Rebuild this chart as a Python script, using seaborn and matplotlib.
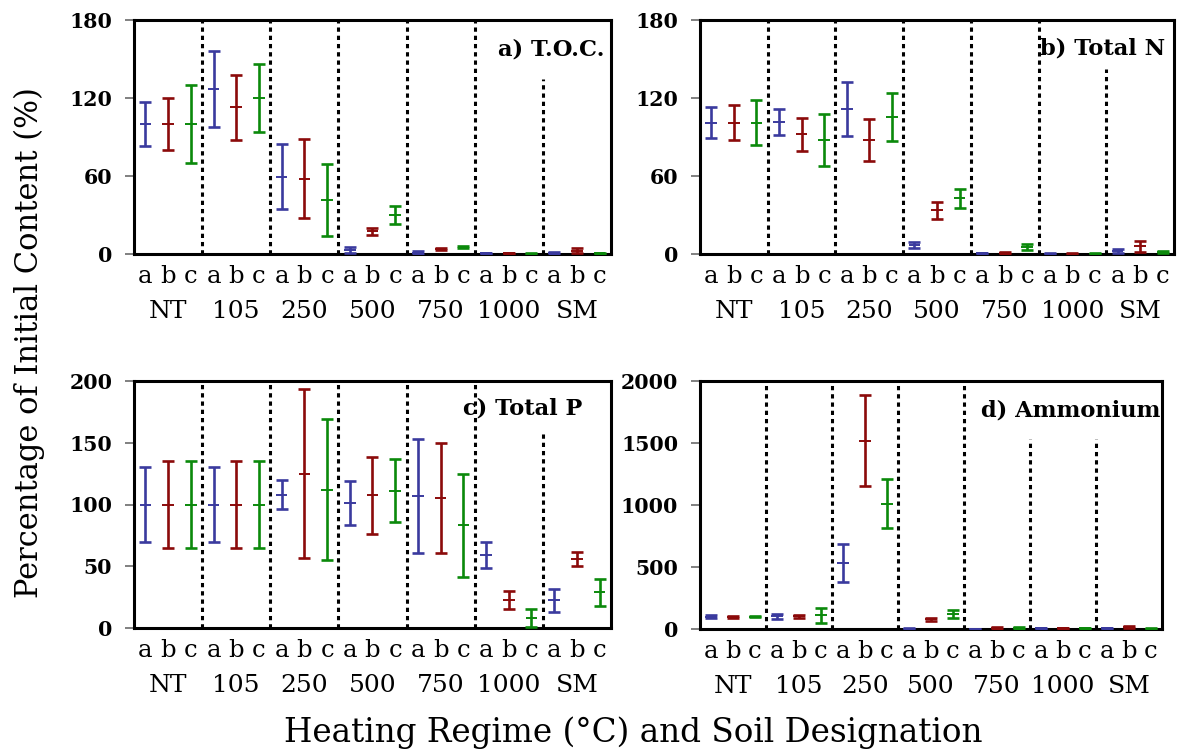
import numpy as np
import matplotlib
matplotlib.use("Agg")
import matplotlib.pyplot as plt
import seaborn as sns
import pandas as pd

# ---------------- data ----------------
groups = ["NT", "105", "250", "500", "750", "1000", "SM"]
soils = ["a", "b", "c"]

toc_mean = [100, 100, 100, 127, 113, 120, 59.5, 58, 41.5, 3, 17.5, 30,
            1, 3.8, 5.5, 0.4, 0.4, 0.3, 1, 2.5, 0.4]
toc_err = [16.8, 20, 30, 29, 25, 26.5, 25, 30.5, 28, 2.5, 2.5, 7,
           1, 1, 1, 0.3, 0.4, 0.3, 0.8, 2, 0.4]

tn_mean = [101, 101, 101, 101.5, 92, 87.5, 111.5, 87.5, 105.5, 6.7, 33.5, 42.7,
           0.4, 0.8, 5.3, 0.2, 0.3, 0.2, 2, 6, 1.5]
tn_err = [12, 13.5, 17.5, 9.7, 12.5, 20, 21, 16.3, 18.2, 2.2, 6.7, 7.5,
          0.4, 0.6, 2.2, 0.2, 0.3, 0.3, 1.5, 4.3, 1]

tp_mean = [100, 100, 100, 100, 100, 100, 108, 125, 112, 101.5, 107.5, 111,
           107, 105.5, 83, 59, 22.5, 8, 22.5, 56, 29]
tp_err = [30, 35.5, 35.5, 30, 35.5, 35.5, 11.5, 68.7, 57, 17.8, 31.3, 25.5,
          46, 44.7, 42, 10.7, 7.3, 7.2, 9.3, 5.6, 11]

nh4_mean = [100, 98, 100, 102, 103, 110, 535, 1520, 1012, 4, 80, 120,
            2, 10, 12, 5, 5, 5, 7, 15, 3]
nh4_err = [15, 10, 6, 20, 12, 60, 152, 365, 195, 3, 12, 30,
           2, 10, 8, 3, 3, 3, 4, 7, 2]

panel_titles = ["a) T.O.C.", "b) Total N", "c) Total P", "d) Ammonium"]
yticks_ab = [0, 60, 120, 180]
yticks_c = [0, 50, 100, 150, 200]
yticks_d = [0, 500, 1000, 1500, 2000]

# ---------------- style ----------------
sns.set_style("white")
plt.rcParams["font.family"] = ["DejaVu Serif"]
plt.rcParams.update({"text.color": "black", "xtick.color": "black",
                     "ytick.color": "black", "axes.labelcolor": "black"})

palette = {"a": "#3a3a9e", "b": "#8b0a0a", "c": "#0b890b"}

fig = plt.figure(figsize=(11.83, 7.53), dpi=100)

W, H = 1183, 753
def rect(l, r, t, b):
    return [l / W, (H - b) / H, (r - l) / W, (b - t) / H]

axes_rects = [rect(134, 611, 20, 254), rect(700, 1174, 20, 254),
              rect(134, 611, 381, 628), rect(700, 1162, 381, 629)]
datasets = [(toc_mean, toc_err, yticks_ab), (tn_mean, tn_err, yticks_ab),
            (tp_mean, tp_err, yticks_c), (nh4_mean, nh4_err, yticks_d)]
# start height (axes fraction) of each dotted separator, per panel
sep_tops = [[1, 1, 1, 1, 1, 0.75], [1, 1, 1, 1, 1, 0.79],
            [1, 1, 1, 1, 1, 0.80], [1, 1, 1, 1, 0.765, 0.765]]
title_pos = [(0.987, 0.872), (0.981, 0.88), (0.939, 0.887), (0.996, 0.883)]

for i, (r, (mean, err, yt)) in enumerate(zip(axes_rects, datasets)):
    ax = fig.add_axes(r)
    df = pd.DataFrame({
        "pos": np.arange(len(groups) * len(soils)),
        "group": np.repeat(groups, len(soils)),
        "soil": soils * len(groups),
        "mean": mean,
        "err": err,
    })
    for s in soils:
        sub = df[df.soil == s]
        ax.errorbar(sub["pos"], sub["mean"], yerr=sub["err"], fmt="none",
                    ecolor=palette[s], elinewidth=1.9, capsize=4.2,
                    capthick=1.9, zorder=3)
    sns.scatterplot(data=df, x="pos", y="mean", hue="soil", palette=palette,
                    marker="_", s=70, linewidth=1.4, legend=False, ax=ax,
                    zorder=4)
    ax.set_xlim(-0.5, len(df) - 0.5)
    ax.set_ylim(yt[0], yt[-1])
    ax.set_yticks(yt)
    ax.set_yticklabels([str(v) for v in yt], fontweight="bold", fontsize=14.8)
    ax.tick_params(axis="y", direction="out", length=6.2, width=1.4,
                   color="#808080", labelcolor="black", pad=9.5, left=True)
    ax.set_xticks(df["pos"])
    ax.set_xticklabels(df["soil"], fontsize=17.5)
    ax.tick_params(axis="x", length=0, pad=21)
    for lab in ax.get_xticklabels():
        lab.set_va("baseline")
    for k, g in enumerate(groups):
        ax.annotate(g, xy=(3 * k + 1, 0), xycoords=("data", "axes fraction"),
                    xytext=(0, -46), textcoords="offset points",
                    ha="center", va="baseline", fontsize=18)
    for k, top in enumerate(sep_tops[i]):
        ax.axvline(3 * k + 2.5, ymin=0, ymax=top, color="black", lw=2.2,
                   linestyle=(0, (1.4, 1.3)), zorder=2)
    ax.set_xlabel("")
    ax.set_ylabel("")
    for sp in ax.spines.values():
        sp.set_visible(True)
        sp.set_linewidth(2.2)
        sp.set_color("black")
    tx, ty = title_pos[i]
    ax.text(tx, ty, panel_titles[i], transform=ax.transAxes, ha="right",
            va="center", fontsize=16.2, fontweight="bold", zorder=5)

fig.text(0.025, 0.545, "Percentage of Initial Content (%)", rotation=90,
         ha="center", va="center", fontsize=22)
fig.text(0.535, 0.027, "Heating Regime (°C) and Soil Designation",
         ha="center", va="center", fontsize=23.5)

fig.savefig("out.png", dpi=100)
